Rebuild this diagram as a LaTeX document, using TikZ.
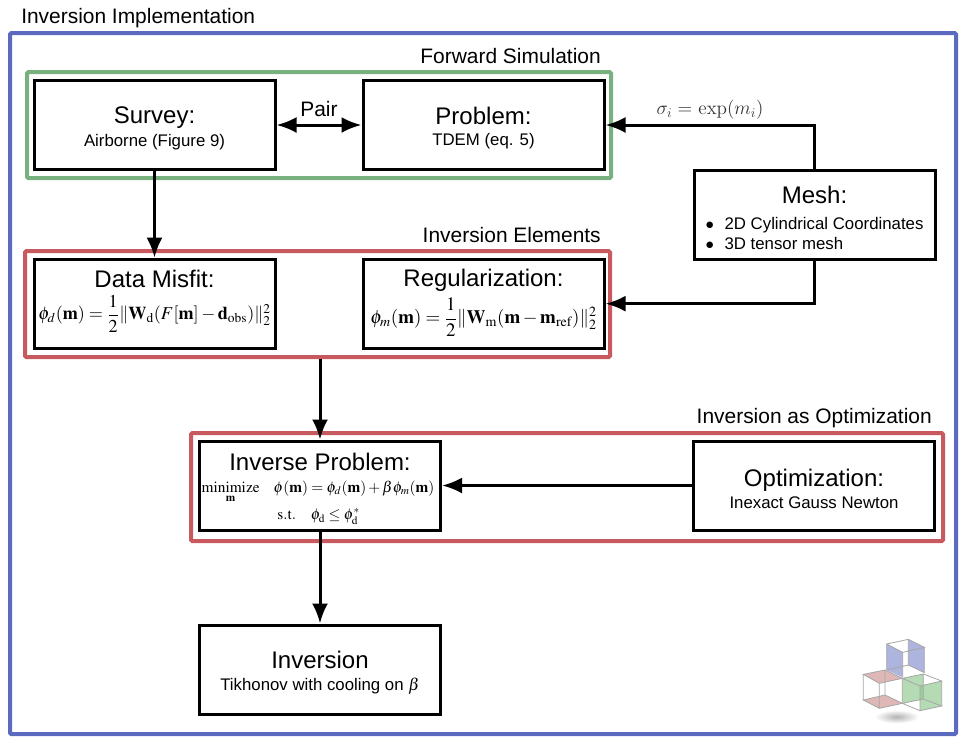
\documentclass[tikz,border=0pt]{standalone}
\usepackage{amsmath}
\usepackage{mathptmx}
\usepackage[no-math]{fontspec}
\setmainfont{Liberation Sans}
\usetikzlibrary{positioning}
\usetikzlibrary{arrows.meta}
\DeclareSymbolFont{cmlet}{OML}{cmm}{m}{it}
\DeclareMathSymbol{\cmsigma}{\mathord}{cmlet}{"1B}
\DeclareMathAlphabet{\mathcmm}{OML}{cmm}{m}{it}
\definecolor{framblue}{HTML}{5B69BE}
\definecolor{framgreen}{HTML}{79B17E}
\definecolor{framred}{HTML}{C8595F}
\definecolor{cubegreen}{HTML}{8CC78C}
\definecolor{cubered}{HTML}{C07070}
\newcommand{\boxtitle}{\fontsize{18}{21}\selectfont}
\newcommand{\boxsub}{\fontsize{12.6}{15}\selectfont}
\newcommand{\boxmath}{\fontsize{13.6}{15}\selectfont}
\newcommand{\regmath}{\fontsize{14.2}{15}\selectfont}
\newcommand{\invmath}{\fontsize{11.5}{14}\selectfont}
\newcommand{\framelabel}{\fontsize{15.7}{18}\selectfont}
\newcommand{\toppad}[1]{\rule{0pt}{#1}}
\newcommand{\botpad}[1]{\rule[-#1]{0pt}{1pt}}
\tikzset{
  simbox/.style={draw=black,line width=2.25pt,fill=white,align=center,inner sep=0pt,
    minimum width=180.75pt,minimum height=66.75pt},
  outerframe/.style={draw=#1,line width=3pt,inner sep=0pt,rounded corners=1pt},
  framelab/.style={font=\framelabel,inner sep=0pt},
  link/.style={line width=2.25pt,-{Latex[length=15pt,width=12pt]}},
  pairlink/.style={line width=2.25pt,{Latex[length=15pt,width=12pt]}-{Latex[length=15pt,width=12pt]}},
  cubeline/.style={draw=black!35,line width=.6pt}
}
\begin{document}
\begin{tikzpicture}[x=.75pt,y=-.75pt,on grid]
   \useasboundingbox (0,0) rectangle (971,744);
   % frames
   \node[outerframe=framblue,minimum width=709.5pt,minimum height=525.75pt] (outer) at (483,383.5) {};
   \node[outerframe=framgreen,minimum width=438pt,minimum height=79.5pt] (forward) at (319,125) {};
   \node[outerframe=framred,minimum width=438.75pt,minimum height=79.5pt] (elements) at (317.5,304) {};
   \node[outerframe=framred,minimum width=564pt,minimum height=81pt] (optim) at (567,487) {};
   \node[framelab,anchor=west] (implabel) at (21,18.5) {Inversion Implementation};
   \node[framelab,anchor=east] (fwdlabel) at (601,56) {Forward Simulation};
   \node[framelab,anchor=east] (ellabel) at (601,235) {Inversion Elements};
   \node[framelab,anchor=east] (optlabel) at (932,418) {Inversion as Optimization};
   % boxes
   \node[simbox] (survey) at (154.5,125) {{\boxtitle\toppad{18pt}Survey:}\\[3.5pt]{\boxsub Airborne (Figure 9)}};
   \node[simbox,right=246.75pt of survey] (problem) {{\boxtitle\toppad{18pt}Problem:}\\[3.5pt]{\boxsub TDEM (eq. 5)}};
   \node[simbox,below=134pt of survey] (misfit) {{\boxtitle Data Misfit:}\\[4.75pt]
     {\boxmath $\phi_d(\mathbf{m})=\dfrac{1}{2}\|\mathbf{W}_{\mathrm{d}}(F[\mathbf{m}]-\mathbf{d}_{\mathrm{obs}})\|_2^2$\botpad{13pt}}};
   \node[simbox,below=134pt of problem] (regul) {{\boxtitle Regularization:}\\[4.25pt]
     {\regmath $\phi_m(\mathbf{m})=\dfrac{1}{2}\|\mathbf{W}_{\mathrm{m}}(\mathbf{m}-\mathbf{m}_{\mathrm{ref}})\|_2^2$\botpad{11pt}}};
   \node[simbox] (mesh) at (814.5,215) {{\boxtitle\toppad{22pt}Mesh:}\\[7.5pt]
     {\boxsub\begin{tabular}{@{}l@{\hspace{8pt}}l@{}}$\bullet$&2D Cylindrical Coordinates\\[0pt]$\bullet$&3D tensor mesh\end{tabular}}};
   \node[simbox] (invprob) at (320,485.5) {{\boxtitle\toppad{18pt}Inverse Problem:}\\[4pt]
     {\invmath\hspace*{-3pt}$\underset{\mathbf{m}}{\mathrm{minimize}}\hspace{10.5pt}\phi(\mathbf{m})=\phi_d(\mathbf{m})+\beta\phi_m(\mathbf{m})$}\\[3.3pt]
     {\invmath\hspace*{-2pt}$\mathrm{s.t.}\hspace{11pt}\phi_{\mathrm{d}}\leq\phi_{\mathrm{d}}^{*}$}};
   \node[simbox,right=370.5pt of invprob] (optimizer) {{\boxtitle\toppad{18pt}Optimization:}\\[3.5pt]{\boxsub Inexact Gauss Newton}};
   \node[simbox,below=138pt of invprob] (inversion) {{\boxtitle\toppad{18pt}Inversion}\\[4.5pt]{\boxsub Tikhonov with cooling on $\beta$}};
   % connectors
   \draw[pairlink] (survey) -- node[above=5pt,font=\framelabel,inner sep=0pt] {Pair} (problem);
   \draw[link] (survey) -- (misfit);
   \draw[link] (mesh) |- node[pos=.75,above=3pt,inner sep=0pt,font=\fontsize{13.8}{16}\selectfont,text=black!80] {$\cmsigma_{\mathcmm{i}}$ {\usefont{OT1}{cmr}{m}{n}= exp(}$\mathcmm{m}_{\mathcmm{i}}${\usefont{OT1}{cmr}{m}{n})}} (problem);
   \draw[link] (mesh) |- (regul);
   \draw[link] (elements.south -| invprob.north) -- (invprob);
   \draw[link] (optimizer) -- (invprob);
   \draw[link] (invprob) -- (inversion);
   % logo
   \begin{scope}[xshift=630pt,yshift=-465pt,x=.25pt,y=-.25pt]
     \shade[inner color=black!30,outer color=white] (170,290) ellipse (66 and 20);
     \fill[framblue,opacity=.5] (140,72) -- (188,97) -- (188,172) -- (140,150) -- cycle;
     \fill[framblue,opacity=.5] (205,58) -- (253,82) -- (253,158) -- (205,135) -- cycle;
     \fill[cubered,opacity=.5] (70,163) -- (135,150) -- (187,175) -- (118,190) -- cycle;
     \fill[cubered,opacity=.5] (70,240) -- (135,225) -- (187,250) -- (118,265) -- cycle;
     \fill[cubegreen,opacity=.65] (187,175) -- (250,162) -- (250,237) -- (187,250) -- cycle;
     \fill[cubegreen,opacity=.65] (240,198) -- (305,183) -- (305,258) -- (240,272) -- cycle;
     \draw[cubeline] (140,72) -- (205,58) -- (253,82) -- (188,97) -- cycle (140,72) -- (140,150) (188,97) -- (188,172) (205,58) -- (205,135) (253,82) -- (253,158) (140,150) -- (205,135) -- (253,158);
     \draw[cubeline] (70,163) -- (135,150) -- (187,175) -- (118,190) -- cycle (70,240) -- (135,225) -- (187,250) -- (118,265) -- cycle (70,163) -- (70,240) (118,190) -- (118,265) (135,150) -- (135,225) (187,175) -- (187,250);
     \draw[cubeline] (187,175) -- (250,162) -- (305,183) -- (240,198) -- cycle (187,250) -- (250,237) -- (305,258) -- (240,272) -- cycle (250,162) -- (250,237) (305,183) -- (305,258) (240,198) -- (240,272);
   \end{scope}
\end{tikzpicture}
\end{document}
